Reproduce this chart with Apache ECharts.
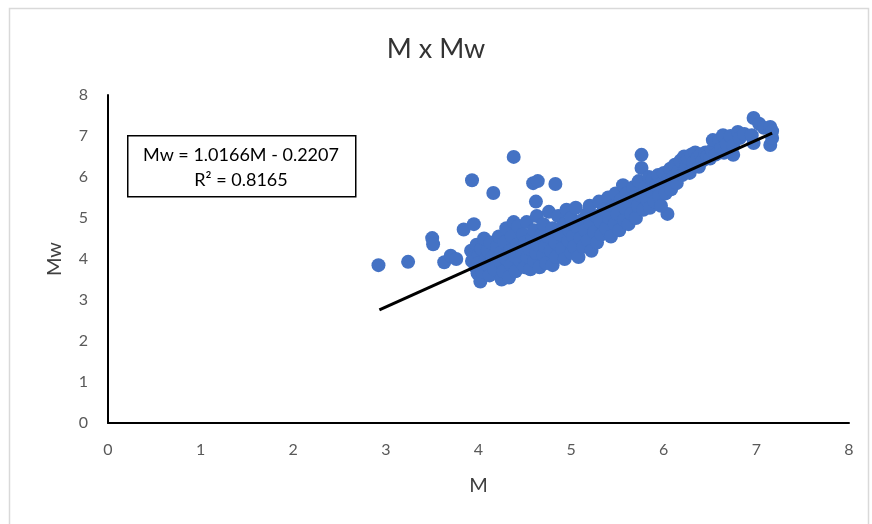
<!DOCTYPE html>
<html>
<head>
<meta charset="utf-8">
<script src="https://cdn.jsdelivr.net/npm/echarts@6/dist/echarts.min.js"></script>
<style>html,body{margin:0;padding:0;background:#fff}#c{width:872px;height:524px}</style>
</head>
<body>
<div id="c"></div>
<script>
const outliers = [
  [2.92,3.85],[3.24,3.93],[3.50,4.51],[3.51,4.36],[3.63,3.92],[3.70,4.08],[3.76,4.00],
  [3.84,4.72],[3.93,5.92],[4.16,5.61],[4.38,6.49],[4.59,5.85],[4.64,5.90],[4.83,5.83],
  [4.62,5.40],[3.95,4.85],[6.04,5.10],[5.76,6.54],[5.76,6.22]
];
const cloudLow = [
  [3.92,4.20],[3.93,3.95],[3.95,4.05],[3.97,3.80],[3.98,4.35],[3.99,3.65],[4.00,4.10],[4.00,3.90],[4.02,3.45],[4.03,4.25],[4.04,3.70],
  [4.06,4.50],[4.08,4.00],[4.10,3.85],[4.10,4.20],[4.12,3.60],[4.13,4.40],[4.15,4.05],[4.17,3.75],
  [4.20,4.30],[4.22,4.55],[4.23,3.95],[4.24,4.15],[4.25,3.50],[4.27,3.70],[4.28,4.40],[4.30,4.75],[4.30,4.00],
  [4.33,3.55],[4.34,4.20],[4.35,3.85],[4.36,4.55],[4.38,4.90],[4.40,4.05],[4.40,3.70],[4.42,4.35],[4.43,4.80],
  [4.45,3.95],[4.47,4.15],[4.48,4.60],[4.50,3.80],[4.50,4.40],[4.52,4.90],[4.53,4.05],[4.55,4.25],[4.56,3.75],
  [4.58,4.50],[4.60,4.70],[4.60,3.95],[4.62,4.15],[4.63,5.05],[4.64,4.35],[4.66,3.80],[4.68,4.60],
  [4.70,4.10],[4.70,4.85],[4.72,4.30],[4.73,3.90],[4.75,4.55],[4.76,5.15],[4.78,4.20],[4.80,4.75],[4.80,3.85],
  [4.83,4.40],[4.84,4.05],[4.86,5.05],[4.88,4.60],[4.90,4.25],[4.92,4.85],[4.93,4.00],[4.95,5.20]
];
const cloudMid = [
  [4.97,4.45],[4.98,4.70],[5.00,4.15],[5.00,5.00],[5.02,4.55],[5.03,4.30],[5.05,5.25],[5.06,4.80],[5.08,4.05],
  [5.10,4.50],[5.12,4.95],[5.13,4.30],[5.15,4.70],[5.17,5.10],[5.18,4.45],[5.20,5.30],[5.21,4.85],[5.22,4.20],
  [5.25,4.65],[5.27,5.05],[5.28,4.40],[5.30,5.40],[5.32,4.90],[5.33,4.60],[5.35,5.20],
  [5.38,4.75],[5.40,5.50],[5.41,5.00],[5.43,4.55],[5.45,5.30],[5.47,4.85],[5.48,5.60],[5.50,5.10],
  [5.52,4.70],[5.54,5.45],[5.56,5.80],[5.57,4.95],[5.58,5.25],[5.60,5.60],[5.62,4.85],[5.63,5.35],[5.65,5.10],
  [5.67,5.75],[5.68,5.50],[5.70,5.00],[5.72,5.30],[5.73,5.90],[5.75,5.55],[5.78,5.20],[5.80,5.75],
  [5.82,5.45],[5.84,6.00],[5.85,5.25],[5.87,5.65],[5.88,5.95],[5.90,5.40],[5.92,5.80],[5.94,6.05],[5.95,5.55]
];
const cloudHigh = [
  [5.97,5.30],[5.98,5.85],[6.00,6.10],[6.02,5.60],[6.05,5.95],[6.07,6.20],[6.08,5.70],[6.10,6.00],
  [6.12,6.30],[6.14,5.85],[6.16,6.15],[6.18,6.40],[6.20,6.05],[6.22,6.50],[6.24,6.25],[6.26,6.45],[6.28,6.10],[6.30,6.55],
  [6.32,6.35],[6.34,6.60],[6.36,6.45],[6.38,6.25],[6.40,6.55],[6.42,6.40],[6.45,6.60],[6.47,6.50],[6.50,6.45],
  [6.52,6.65],[6.53,6.90],[6.56,6.55],[6.60,6.90],[6.62,6.70],[6.64,7.02],[6.65,6.59],[6.68,6.80],[6.72,7.00],
  [6.75,6.54],[6.75,6.76],[6.80,7.10],[6.82,6.95],[6.87,7.05],[6.95,7.02],[6.97,7.44],[6.97,6.83],[7.03,7.30],
  [7.08,7.20],[7.15,7.22],[7.15,6.78],[7.17,6.95],[7.17,7.12]
];
const trendSlope = [1.0166];
const trendIntercept = [-0.2207];
const trendRange = [2.93, 7.17];
const xTicks = [0,1,2,3,4,5,6,7,8];
const yTicks = [0,1,2,3,4,5,6,7,8];
const equationLines = ['Mw = 1.0166M - 0.2207', 'R² = 0.8165'];

const points = outliers.concat(cloudLow, cloudMid, cloudHigh);
const trend = trendRange.map(x => [x, trendSlope[0] * x + trendIntercept[0]]);

const font = 'Lato, "Open Sans", "Liberation Sans", sans-serif';
const chart = echarts.init(document.getElementById('c'), null, {renderer: 'canvas'});
chart.setOption({
  animation: false,
  backgroundColor: '#fff',
  title: {
    text: 'M x Mw', left: 'center', top: 31,
    textStyle: {fontFamily: font, fontSize: 27, fontWeight: 'normal', color: '#333'}
  },
  grid: {left: 108, right: 23, top: 95, bottom: 101},
  xAxis: {
    type: 'value', min: xTicks[0], max: xTicks[xTicks.length - 1], interval: 1,
    name: 'M', nameLocation: 'middle', nameGap: 53,
    nameTextStyle: {fontFamily: font, fontSize: 20, color: '#404040'},
    axisLine: {show: true, lineStyle: {color: '#000', width: 2}},
    axisTick: {show: false}, splitLine: {show: false},
    axisLabel: {fontFamily: font, fontSize: 16, color: '#595959', margin: 19}
  },
  yAxis: {
    type: 'value', min: yTicks[0], max: yTicks[yTicks.length - 1], interval: 1,
    name: 'Mw', nameLocation: 'middle', nameGap: 43,
    nameTextStyle: {fontFamily: font, fontSize: 20, color: '#404040'},
    axisLine: {show: true, lineStyle: {color: '#000', width: 2}},
    axisTick: {show: false}, splitLine: {show: false},
    axisLabel: {fontFamily: font, fontSize: 16, color: '#595959', margin: 20}
  },
  series: [
    {
      type: 'scatter', data: points, symbolSize: 14,
      itemStyle: {color: '#4472C4', opacity: 1}, z: 2
    },
    {
      type: 'line', data: trend, symbol: 'none',
      lineStyle: {color: '#000', width: 3}, z: 3
    }
  ],
  graphic: [
    {type: 'rect', left: 7, top: 6, shape: {width: 859, height: 530},
     style: {fill: 'none', stroke: '#d9d9d9', lineWidth: 1.5}, silent: true},
    {type: 'rect', left: 127, top: 135, shape: {width: 228, height: 61},
     style: {fill: '#fff', stroke: '#000', lineWidth: 1.5}, z: 10},
    {type: 'text', x: 241, y: 155, z: 11,
     style: {text: equationLines[0], align: 'center', verticalAlign: 'middle',
       fontFamily: font, fontSize: 18, fill: '#000'}},
    {type: 'text', x: 241, y: 180, z: 11,
     style: {text: equationLines[1], align: 'center', verticalAlign: 'middle',
       fontFamily: font, fontSize: 18, fill: '#000'}}
  ]
});
</script>
</body>
</html>
